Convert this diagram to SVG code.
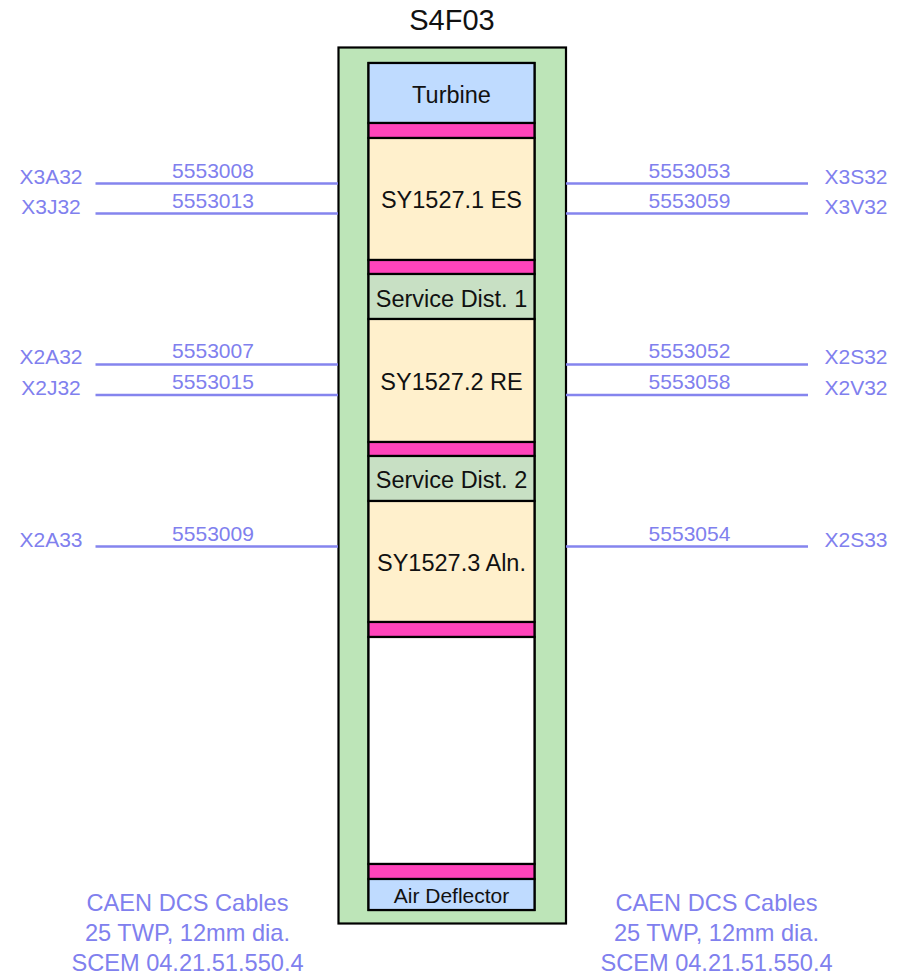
<svg xmlns="http://www.w3.org/2000/svg" width="908" height="974" viewBox="0 0 908 974">
<style>
text{font-family:"Liberation Sans",Arial,sans-serif}
.box{stroke:#000;stroke-width:2.2}
.lbl{font-size:23.5px;fill:#111;text-anchor:middle}
.cl{font-size:21px;fill:#8080ee;text-anchor:middle}
.cable{stroke:#8585ee;stroke-width:2.4;fill:none}
.note{font-size:23.6px;fill:#8080ee;text-anchor:middle}
.pink{fill:#ff44bb}
.cream{fill:#fff0cc}
.svc{fill:#c8e0c4}
.blue{fill:#bfdbff}
</style>
<rect width="908" height="974" fill="#fff"/>
<text x="452" y="29.5" style="font-size:29px;fill:#111;text-anchor:middle">S4F03</text>
<g id="rack">
<rect class="box" x="338.5" y="47.5" width="227.5" height="876" fill="#bde5b8"/>
<rect class="box" x="368.5" y="63" width="166" height="847" fill="#fff"/>
</g>
<g id="turbine"><rect class="box blue" x="368.5" y="63" width="166" height="60"/><text class="lbl" x="451.5" y="102.5">Turbine</text></g>
<g id="pink1"><rect class="box pink" x="368.5" y="123" width="166" height="15"/></g>
<g id="sy1"><rect class="box cream" x="368.5" y="138" width="166" height="122"/><text class="lbl" x="451.5" y="207.5">SY1527.1 ES</text></g>
<g id="pink2"><rect class="box pink" x="368.5" y="260" width="166" height="14"/></g>
<g id="sd1"><rect class="box svc" x="368.5" y="274" width="166" height="45"/><text class="lbl" x="451.5" y="306.5">Service Dist. 1</text></g>
<g id="sy2"><rect class="box cream" x="368.5" y="319" width="166" height="123"/><text class="lbl" x="451.5" y="389.5">SY1527.2 RE</text></g>
<g id="pink3"><rect class="box pink" x="368.5" y="442" width="166" height="14"/></g>
<g id="sd2"><rect class="box svc" x="368.5" y="456" width="166" height="45"/><text class="lbl" x="451.5" y="487.5">Service Dist. 2</text></g>
<g id="sy3"><rect class="box cream" x="368.5" y="501" width="166" height="121"/><text class="lbl" x="451.5" y="570.5">SY1527.3 Aln.</text></g>
<g id="pink4"><rect class="box pink" x="368.5" y="622" width="166" height="15"/></g>
<g id="empty"><rect class="box" x="368.5" y="637" width="166" height="227" fill="#fff"/></g>
<g id="pink5"><rect class="box pink" x="368.5" y="864" width="166" height="15"/></g>
<g id="air"><rect class="box blue" x="368.5" y="879" width="166" height="31"/><text class="lbl" x="451.5" y="903" style="font-size:21px">Air Deflector</text></g>
<g id="connectors">
<line class="cable" x1="95.5" y1="183.5" x2="338" y2="183.5"/>
<line class="cable" x1="95.5" y1="213.5" x2="338" y2="213.5"/>
<line class="cable" x1="95.5" y1="364.5" x2="338" y2="364.5"/>
<line class="cable" x1="95.5" y1="395" x2="338" y2="395"/>
<line class="cable" x1="95.5" y1="546.5" x2="338" y2="546.5"/>
<line class="cable" x1="566" y1="183.5" x2="808" y2="183.5"/>
<line class="cable" x1="566" y1="213.5" x2="808" y2="213.5"/>
<line class="cable" x1="566" y1="364.5" x2="808" y2="364.5"/>
<line class="cable" x1="566" y1="395" x2="808" y2="395"/>
<line class="cable" x1="566" y1="546.5" x2="808" y2="546.5"/>
<text class="cl" x="213" y="177.5">5553008</text>
<text class="cl" x="213" y="207.5">5553013</text>
<text class="cl" x="213" y="357.5">5553007</text>
<text class="cl" x="213" y="388.5">5553015</text>
<text class="cl" x="213" y="541">5553009</text>
<text class="cl" x="689.5" y="177.5">5553053</text>
<text class="cl" x="689.5" y="207.5">5553059</text>
<text class="cl" x="689.5" y="357.5">5553052</text>
<text class="cl" x="689.5" y="388.5">5553058</text>
<text class="cl" x="689.5" y="541">5553054</text>
</g>
<g id="endpoints">
<text class="cl" x="51" y="184">X3A32</text>
<text class="cl" x="51" y="214">X3J32</text>
<text class="cl" x="51" y="364">X2A32</text>
<text class="cl" x="51" y="394.5">X2J32</text>
<text class="cl" x="51" y="547">X2A33</text>
<text class="cl" x="856" y="184">X3S32</text>
<text class="cl" x="856" y="214">X3V32</text>
<text class="cl" x="856" y="364">X2S32</text>
<text class="cl" x="856" y="394.5">X2V32</text>
<text class="cl" x="856" y="547">X2S33</text>
</g>
<g id="notes">
<text class="note" x="187.5" y="911">CAEN DCS Cables</text>
<text class="note" x="187.5" y="940.5">25 TWP, 12mm dia.</text>
<text class="note" x="187.5" y="970.5">SCEM 04.21.51.550.4</text>
<text class="note" x="716.5" y="911">CAEN DCS Cables</text>
<text class="note" x="716.5" y="940.5">25 TWP, 12mm dia.</text>
<text class="note" x="716.5" y="970.5">SCEM 04.21.51.550.4</text>
</g>
</svg>
